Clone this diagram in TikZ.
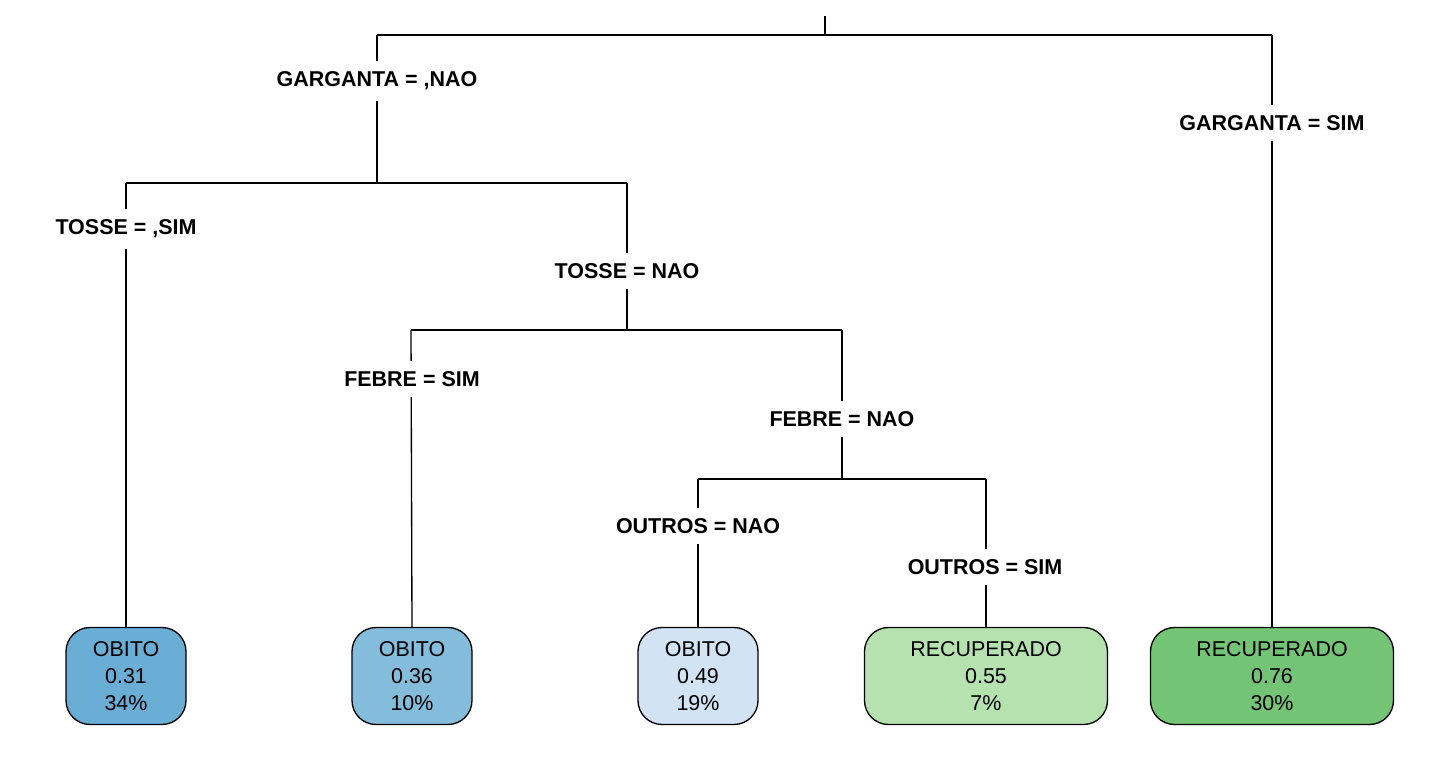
\documentclass[tikz,border=0pt]{standalone}
\usepackage{fontspec}
\setmainfont{Liberation Sans}
\definecolor{b1}{HTML}{6AAED6}
\definecolor{b2}{HTML}{84BDDC}
\definecolor{b3}{HTML}{D2E3F3}
\definecolor{g1}{HTML}{B5E2AF}
\definecolor{g2}{HTML}{74C476}
\begin{document}
\begin{tikzpicture}[x=0.75pt,y=-0.75pt,
  edge/.style={line width=1pt,black},
  split/.style={font=\fontsize{16.1}{19}\selectfont\bfseries,fill=white,inner xsep=3pt,inner ysep=8pt},
  leaf/.style={draw=black,line width=1pt,rounded corners=18pt,minimum height=97*0.75pt,align=center,
    font=\fontsize{16.1}{20.25}\selectfont,inner sep=0pt},
  narrow/.style={leaf,minimum width=120*0.75pt},
  wide/.style={leaf,minimum width=243*0.75pt}]
\useasboundingbox (0,0) rectangle (1440,763);
% junctions
\coordinate (top) at (825,16);
\coordinate (j0) at (825,35);
\coordinate (j0l) at (377,35);
\coordinate (j0r) at (1272,35);
\coordinate (j1) at (377,183);
\coordinate (j1l) at (126,183);
\coordinate (j1r) at (627,183);
\coordinate (j2) at (627,330);
\coordinate (j2l) at (411,330);
\coordinate (j2r) at (842,330);
\coordinate (j3) at (842,479);
\coordinate (j3l) at (698,479);
\coordinate (j3r) at (986,479);
% leaves
\node[narrow,fill=b1] (L1) at (126,676) {OBITO\\0.31\\34\%};
\node[narrow,fill=b2] (L2) at (412,676) {OBITO\\0.36\\10\%};
\node[narrow,fill=b3] (L3) at (698,676) {OBITO\\0.49\\19\%};
\node[wide,fill=g1] (L4) at (986,676) {RECUPERADO\\0.55\\7\%};
\node[wide,fill=g2] (L5) at (1272,676) {RECUPERADO\\0.76\\30\%};
% edges
\draw[edge] (top) -- (j0);
\draw[edge] (j0l) -- (j0r);
\draw[edge] (j0l) -- (j1);
\draw[edge] (j0r) -- (L5.north);
\draw[edge] (j1l) -- (j1r);
\draw[edge] (j1l) -- (L1.north);
\draw[edge] (j1r) -- (j2);
\draw[edge] (j2l) -- (j2r);
\draw[edge] (j2l) -- (L2.north);
\draw[edge] (j2r) -- (j3);
\draw[edge] (j3l) -- (j3r);
\draw[edge] (j3l) -- (L3.north);
\draw[edge] (j3r) -- (L4.north);
% split labels
\node[split] (s1) at (377,81) {GARGANTA = ,NAO};
\node[split] (s2) at (1272,123) {GARGANTA = SIM};
\node[split] (s3) at (126,229) {TOSSE = ,SIM};
\node[split] (s4) at (627,271) {TOSSE = NAO};
\node[split] (s5) at (412,379) {FEBRE = SIM};
\node[split] (s6) at (842,419) {FEBRE = NAO};
\node[split] (s7) at (698,526) {OUTROS = NAO};
\node[split] (s8) at (985,567) {OUTROS = SIM};
\end{tikzpicture}
\end{document}
